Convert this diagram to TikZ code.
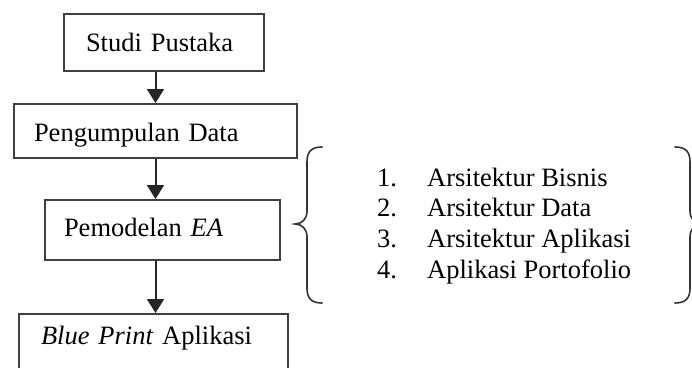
\documentclass[tikz,border=0pt]{standalone}
\usepackage{fontspec}
\setmainfont{Liberation Serif}
\usetikzlibrary{arrows.meta}
\begin{document}
\begin{tikzpicture}[x=1pt,y=-1pt,
  every node/.style={font=\fontsize{26.5}{30.7}\selectfont},
  box/.style={draw=black!75, line width=2pt, anchor=north west, align=left, inner ysep=0pt},
  arr/.style={draw=black!85, line width=2pt, -{Triangle[width=17pt,length=14pt]}},
  brace/.style={draw=black!80, line width=1.6pt, line cap=round},
  item/.style={anchor=base west, inner sep=0pt}]
\useasboundingbox (0,0) rectangle (692,367);
\clip (0,0) rectangle (692,367);
\node[box, inner xsep=22pt, text width=156pt, text height=37pt, text depth=20pt] (b1) at (63,13) {Studi Pustaka};
\node[box, inner xsep=20pt, text width=243pt, text height=37pt, text depth=17pt] (b2) at (13,103) {Pengumpulan Data};
\node[box, inner xsep=19pt, text width=197pt, text height=36pt, text depth=24pt] (b3) at (44,199) {Pemodelan \textit{EA}};
\node[box, inner xsep=22pt, text width=225pt, text height=30pt, text depth=60pt] (b4) at (18,313) {\textit{Blue Print} Aplikasi};
\draw[arr] (b1.south -| b2.north) -- (b2.north);
\draw[arr] (b2.south) -- (b2.south |- b3.north);
\draw[arr] (b2.south |- b3.south) -- (b2.south |- b4.north);
% list
\node[item] (n1) at (377,186) {1.};
\node[item] (t1) at (427,186) {Arsitektur Bisnis};
\node[item] (n2) at (377,216.7) {2.};
\node[item] (t2) at (427,216.7) {Arsitektur Data};
\node[item] (n3) at (377,247.4) {3.};
\node[item] (t3) at (427,247.4) {Arsitektur Aplikasi};
\node[item] (n4) at (377,278) {4.};
\node[item] (t4) at (427,278) {Aplikasi Portofolio};
% braces
\draw[brace] (322,147) .. controls (311,147) and (307,152) .. (307,162) -- (307,211)
  .. controls (307,219) and (302,224) .. (295,224)
  .. controls (302,224) and (307,229) .. (307,237) -- (307,288)
  .. controls (307,298) and (311,303) .. (322,303);
\draw[brace] (675,147) .. controls (686,147) and (690,152) .. (690,162) -- (690,211)
  .. controls (690,219) and (695,224) .. (702,224)
  .. controls (695,224) and (690,229) .. (690,237) -- (690,288)
  .. controls (690,298) and (686,303) .. (675,303);
\end{tikzpicture}
\end{document}
